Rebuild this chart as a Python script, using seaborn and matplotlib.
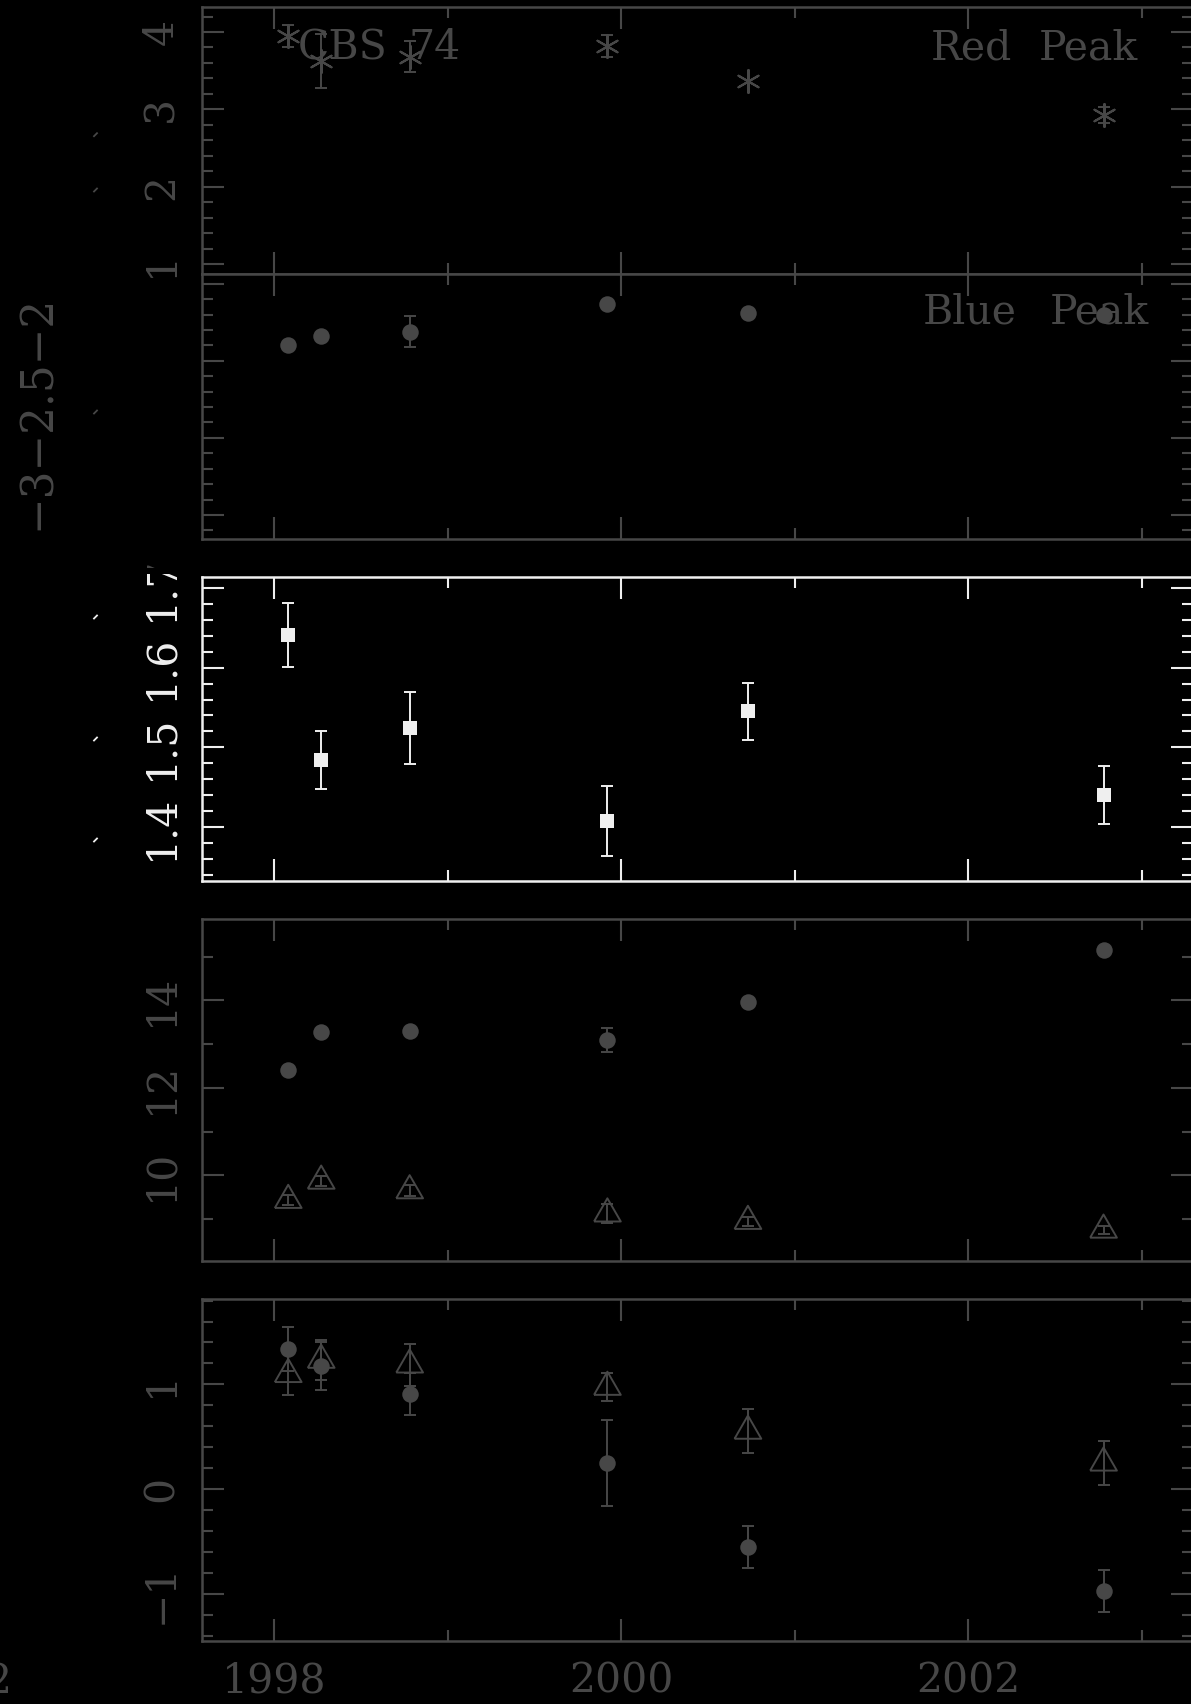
import numpy as np
import matplotlib
matplotlib.use("Agg")
import matplotlib.pyplot as plt
import seaborn as sns
from matplotlib.ticker import MultipleLocator, FuncFormatter, NullFormatter
from matplotlib.lines import Line2D
from matplotlib.transforms import Bbox

# ---------------------------------------------------------------- data
epochs = [1998.08, 1998.27, 1998.78, 1999.92, 2000.73, 2002.78]

red_peak = [3.95, 3.63, 3.68, 3.82, 3.37, 2.93]
red_peak_err = [0.14, 0.35, 0.20, 0.14, 0.0, 0.10]

blue_peak = [-2.40, -2.34, -2.31, -2.13, -2.19, -2.20]
blue_peak_err = [0.0, 0.0, 0.10, 0.0, 0.0, 0.0]

peak_ratio = [1.641, 1.484, 1.524, 1.407, 1.545, 1.440]
peak_ratio_err = [0.040, 0.036, 0.045, 0.044, 0.036, 0.037]

flux_circle = [12.40, 13.28, 13.31, 13.09, 13.96, 15.15]
flux_circle_err = [0.0, 0.0, 0.0, 0.28, 0.0, 0.0]
flux_triangle = [9.43, 9.87, 9.65, 9.12, 8.95, 8.75]
flux_triangle_err = [0.12, 0.12, 0.12, 0.22, 0.10, 0.10]

slope_circle = [1.337, 1.175, 0.904, 0.251, -0.551, -0.974]
slope_circle_err = [0.21, 0.23, 0.20, 0.41, 0.20, 0.20]
slope_triangle = [1.096, 1.232, 1.187, 0.974, 0.555, 0.251]
slope_triangle_err = [0.20, 0.19, 0.20, 0.13, 0.21, 0.21]

# ---------------------------------------------------------------- style
GREY = "#474747"
WHITE = "#efefef"
FS = 29.5
YPAD = 14.5
plt.rcParams["font.family"] = ["DejaVu Serif"]
plt.rcParams["axes.unicode_minus"] = True

W, H = 1191, 1704
fig = plt.figure(figsize=(W / 100, H / 100), dpi=100, facecolor="black")

XLIM = (1997.583, 2003.293)
TRI = [(-0.5, -0.2887), (0.5, -0.2887), (0.0, 0.5774), (-0.5, -0.2887)]


def panel(top, bottom, ylim, ymaj, ymin, color, ylabels=True, xlabels=False):
    ax = fig.add_axes([202 / W, 1 - bottom / H, (1192.5 - 202) / W, (bottom - top) / H])
    ax.set_facecolor("black")
    for s in ax.spines.values():
        s.set_color(color)
        s.set_linewidth(1.8)
    ax.set_xlim(*XLIM)
    ax.set_ylim(*ylim)
    ax.xaxis.set_major_locator(MultipleLocator(2))
    ax.xaxis.set_minor_locator(MultipleLocator(1))
    ax.yaxis.set_major_locator(MultipleLocator(ymaj))
    ax.yaxis.set_minor_locator(MultipleLocator(ymin))
    ax.tick_params(which="both", direction="in", top=True, right=True,
                   color=color, width=1.5, labelcolor=color, labelsize=FS)
    ax.tick_params(which="major", length=15.8)
    ax.tick_params(which="minor", length=7.9)
    ax.tick_params(axis="y", labelrotation=90, pad=YPAD)
    ax.tick_params(axis="x", pad=15)
    if not ylabels:
        ax.yaxis.set_major_formatter(NullFormatter())
    if not xlabels:
        ax.xaxis.set_major_formatter(NullFormatter())
    else:
        ax.xaxis.set_major_formatter(FuncFormatter(lambda v, p: f"{v:.0f}"))
    return ax


def bars(ax, x, y, err, color):
    x, y, err = map(np.asarray, (x, y, err))
    m = err > 0
    if m.any():
        ax.errorbar(x[m], y[m], yerr=err[m], fmt="none", ecolor=color,
                    elinewidth=1.4, capsize=4.3, capthick=1.4, zorder=2)


# ---- Red / Blue peak
ax1 = panel(7, 274, (0.875, 4.323), 1, 0.2, GREY)
bars(ax1, epochs, red_peak, red_peak_err, GREY)
sns.scatterplot(x=epochs, y=red_peak, ax=ax1, marker=(6, 2, 0), s=275,
                color=GREY, edgecolor=GREY, linewidth=1.5, legend=False, zorder=3)

ax2 = panel(274, 539, (-3.656, -1.937), 0.5, 0.1, GREY, ylabels=False)
bars(ax2, epochs, blue_peak, blue_peak_err, GREY)
sns.scatterplot(x=epochs, y=blue_peak, ax=ax2, marker="o", s=141,
                color=GREY, edgecolor=GREY, linewidth=0, legend=False, zorder=3)

# ---- peak ratio (highlighted)
ax3 = panel(577, 881, (1.332, 1.714), 0.1, 0.02, WHITE)
ax3.yaxis.set_major_formatter(
    FuncFormatter(lambda v, p: "" if abs(v - 1.7) < 1e-6 else f"{v:.1f}"))
bars(ax3, epochs, peak_ratio, peak_ratio_err, WHITE)
sns.scatterplot(x=epochs, y=peak_ratio, ax=ax3, marker="s", s=106,
                color=WHITE, edgecolor=WHITE, linewidth=0, legend=False, zorder=3)

# ---- fluxes
ax4 = panel(919, 1261, (8.04, 15.86), 2, 1, GREY)
bars(ax4, epochs, flux_circle, flux_circle_err, GREY)
bars(ax4, epochs, flux_triangle, flux_triangle_err, GREY)
sns.scatterplot(x=epochs, y=flux_circle, ax=ax4, marker="o", s=141,
                color=GREY, edgecolor=GREY, linewidth=0, legend=False, zorder=3)
sns.scatterplot(x=epochs, y=flux_triangle, ax=ax4, marker=TRI, s=495,
                color=GREY, facecolor="none", edgecolor=GREY, linewidth=1.4,
                legend=False, zorder=3)

# ---- slopes
ax5 = panel(1299, 1641, (-1.449, 1.815), 1, 0.2, GREY, xlabels=True)
bars(ax5, epochs, slope_circle, slope_circle_err, GREY)
bars(ax5, epochs, slope_triangle, slope_triangle_err, GREY)
sns.scatterplot(x=epochs, y=slope_circle, ax=ax5, marker="o", s=141,
                color=GREY, edgecolor=GREY, linewidth=0, legend=False, zorder=3)
sns.scatterplot(x=epochs, y=slope_triangle, ax=ax5, marker=TRI, s=495,
                color=GREY, facecolor="none", edgecolor=GREY, linewidth=1.4,
                legend=False, zorder=3)

# ---------------------------------------------------------------- annotations
def word(x, y, s):
    fig.text(x / W, 1 - y / H, s, ha="left", va="baseline", fontsize=FS, color=GREY)


word(298, 59, "CBS")
word(408, 59, "74")
word(931, 59, "Red")
word(1039, 59, "Peak")
word(923, 323, "Blue")
word(1050, 323, "Peak")

# blue-peak axis numbering, set further out
fig.text(37 / W, 1 - 412 / H, "\u22123\u22122.5\u22122", rotation=90,
         ha="center", va="center", fontsize=31.5, color=GREY)

# upper label of the ratio axis, partly overprinted
trans, va, ha = ax3.get_yaxis_text1_transform(YPAD)
t_lo = fig.text(0, 1.7, "1.7", transform=trans, va="center", ha=ha, rotation=90,
                fontsize=FS, color=WHITE)
t_lo.set_clip_on(True)
t_lo.set_clip_box(Bbox.from_extents(0, 0, W, H - 574))
t_hi = fig.text(0, 1.7, "1.7", transform=trans, va="center", ha=ha, rotation=90,
                fontsize=FS, color=GREY)
t_hi.set_clip_on(True)
t_hi.set_clip_box(Bbox.from_extents(0, H - 568, W, H - 545))

# stray label fragments along the left margin
fig.text(11 / W, 1 - 1693 / H, "2", ha="right", va="baseline", fontsize=FS, color=GREY)
for yy, col in [(134.7, GREY), (190, GREY), (412, GREY),
                (617, WHITE), (739, WHITE), (840, WHITE)]:
    fig.add_artist(Line2D([94 / W, 97 / W], [1 - (yy + 1.5) / H, 1 - (yy - 1.5) / H],
                          transform=fig.transFigure, color=col, lw=1.3))

# centre the rotated y tick labels on their ticks
fig.canvas.draw()
for ax in (ax1, ax2, ax3, ax4, ax5):
    for lab in ax.yaxis.get_ticklabels():
        lab.set_verticalalignment("center")

fig.savefig("out.png", dpi=100, facecolor="black")
